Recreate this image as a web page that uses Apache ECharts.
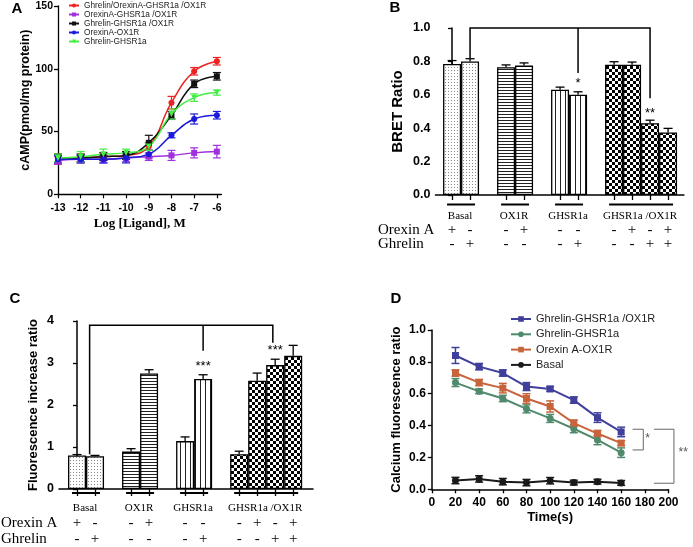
<!DOCTYPE html>
<html>
<head>
<meta charset="utf-8">
<script src="https://cdn.jsdelivr.net/npm/echarts@6/dist/echarts.min.js"></script>
<style>
html, body { margin: 0; padding: 0; background: #fff; }
#main { width: 693px; height: 547px; }
</style>
</head>
<body>
<div id="main"></div>
<script>
// A: cAMP dose response
const logDose = [-13, -12, -11, -10, -9, -8, -7, -6];
const campNames = ['Ghrelin/OrexinA-GHSR1a /OX1R', 'OrexinA-GHSR1a /OX1R', 'Ghrelin-GHSR1a /OX1R', 'OrexinA-OX1R', 'Ghrelin-GHSR1a'];
const campBoth = [28, 29, 30, 31, 38, 73, 98, 106];
const campOrexinDimer = [27, 28, 28, 29, 30, 31, 33, 34];
const campGhrelinDimer = [29, 29, 30, 31, 41, 63, 88, 94];
const campOrexinOX1R = [28, 28, 28, 29, 32, 47, 60, 63];
const campGhrelinGHSR = [29, 30, 32, 33, 38, 64, 77, 81];
const campBothErr = [4, 3, 3, 3, 3, 5, 3, 3];
const campOrexinDimerErr = [3, 3, 3, 3, 3, 4, 4, 5];
const campGhrelinDimerErr = [3, 3, 3, 3, 6, 3, 3, 3];
const campOrexinOX1RErr = [3, 3, 3, 4, 3, 2, 4, 3];
const campGhrelinGHSRErr = [3, 4, 4, 3, 3, 4, 3, 2];

// B / C: bar groups
const groups = ['Basal', 'OX1R', 'GHSR1a', 'GHSR1a /OX1R'];
const barGroup = [0, 0, 1, 1, 2, 2, 3, 3, 3, 3];
const orexinA = ['+', '-', '-', '+', '-', '-', '-', '+', '-', '+'];
const ghrelin = ['-', '+', '-', '-', '-', '+', '-', '-', '+', '+'];
const bretMean = [0.785, 0.80, 0.765, 0.775, 0.63, 0.60, 0.78, 0.78, 0.43, 0.375];
const bretErr = [0.02, 0.016, 0.014, 0.016, 0.016, 0.018, 0.018, 0.016, 0.018, 0.024];
const fluoMean = [0.80, 0.78, 0.89, 2.75, 1.14, 2.62, 0.83, 2.58, 2.95, 3.17];
const fluoErr = [0.02, 0.02, 0.07, 0.09, 0.10, 0.10, 0.07, 0.18, 0.14, 0.25];

// D: calcium time course
const timeS = [20, 40, 60, 80, 100, 120, 140, 160];
const caNames = ['Ghrelin-GHSR1a /OX1R ', 'Ghrelin-GHSR1a ', 'Orexin A-OX1R', 'Basal'];
const caGhrelinDimer = [0.84, 0.77, 0.73, 0.645, 0.63, 0.56, 0.45, 0.36];
const caGhrelinGHSR = [0.67, 0.615, 0.57, 0.505, 0.445, 0.38, 0.31, 0.23];
const caOrexinOX1R = [0.73, 0.67, 0.635, 0.57, 0.52, 0.415, 0.35, 0.29];
const caBasal = [0.055, 0.065, 0.048, 0.042, 0.054, 0.042, 0.048, 0.04];
const caGhrelinDimerErr = [0.05, 0.02, 0.02, 0.025, 0.015, 0.02, 0.03, 0.03];
const caGhrelinGHSRErr = [0.025, 0.015, 0.02, 0.025, 0.025, 0.025, 0.03, 0.03];
const caOrexinOX1RErr = [0.02, 0.02, 0.03, 0.03, 0.035, 0.02, 0.02, 0.015];
const caBasalErr = [0.02, 0.02, 0.02, 0.02, 0.02, 0.015, 0.015, 0.015];

const SANS = 'Liberation Sans';
const SERIF = 'Liberation Serif';

// bar position: index plus one empty slot between groups
const barPos = barGroup.map((g, i) => i + g);

function makePattern(kind) {
  const c = document.createElement('canvas');
  const ctx = c.getContext('2d');
  if (kind === 'dots') {
    c.width = 3; c.height = 3;
    ctx.fillStyle = '#fff'; ctx.fillRect(0, 0, 3, 3);
    ctx.fillStyle = '#888'; ctx.fillRect(1, 1, 1, 1);
  } else if (kind === 'h') {
    c.width = 2; c.height = 3;
    ctx.fillStyle = '#fff'; ctx.fillRect(0, 0, 2, 3);
    ctx.fillStyle = '#222'; ctx.fillRect(0, 0, 2, 1);
  } else if (kind === 'v') {
    c.width = 5; c.height = 2;
    ctx.fillStyle = '#fff'; ctx.fillRect(0, 0, 5, 2);
    ctx.fillStyle = '#222'; ctx.fillRect(0, 0, 1, 2);
  } else {
    c.width = 6; c.height = 6;
    ctx.fillStyle = '#fff'; ctx.fillRect(0, 0, 6, 6);
    ctx.fillStyle = '#000'; ctx.fillRect(0, 0, 3, 3); ctx.fillRect(3, 3, 3, 3);
  }
  return { image: c, repeat: 'repeat' };
}
const patterns = [makePattern('dots'), makePattern('h'), makePattern('v'), makePattern('checker')];

function errorBars(gi, xs, means, errs, color, cap, lw, upOnly) {
  return {
    type: 'custom', xAxisIndex: gi, yAxisIndex: gi, silent: true, z: 4,
    data: xs.map((x, i) => [x, means[i], errs[i]]),
    encode: { x: 0, y: 1 },
    renderItem: (params, api) => {
      const x = api.value(0), m = api.value(1), e = api.value(2);
      const top = api.coord([x, m + e]);
      const bot = api.coord([x, upOnly ? m : m - e]);
      const st = { stroke: color, lineWidth: lw };
      const ch = [
        { type: 'line', shape: { x1: top[0], y1: top[1], x2: bot[0], y2: bot[1] }, style: st },
        { type: 'line', shape: { x1: top[0] - cap / 2, y1: top[1], x2: top[0] + cap / 2, y2: top[1] }, style: st }
      ];
      if (!upOnly) ch.push({ type: 'line', shape: { x1: bot[0] - cap / 2, y1: bot[1], x2: bot[0] + cap / 2, y2: bot[1] }, style: st });
      return { type: 'group', children: ch };
    }
  };
}

function lineSeries(gi, name, xs, ys, color, symbol, size, lw, extra) {
  return Object.assign({
    type: 'line', name, xAxisIndex: gi, yAxisIndex: gi,
    data: xs.map((x, i) => [x, ys[i]]),
    symbol, symbolSize: size, showSymbol: true,
    lineStyle: { color, width: lw }, itemStyle: { color },
    z: 5
  }, extra || {});
}

function axisCommon(extra) {
  return Object.assign({
    type: 'value',
    axisLine: { show: true, lineStyle: { color: '#000', width: 1.5 } },
    axisTick: { show: true, length: 4, lineStyle: { color: '#000', width: 1.3 } },
    axisLabel: { color: '#000', fontFamily: SANS, fontWeight: 'bold', fontSize: 12 },
    splitLine: { show: false },
    nameLocation: 'middle',
    nameTextStyle: { color: '#000', fontFamily: SANS, fontWeight: 'bold', fontSize: 13 }
  }, extra);
}

const campSets = [
  [campBoth, campBothErr, '#ee2222', 'circle', 0],
  [campOrexinDimer, campOrexinDimerErr, '#a030dd', 'rect', 0],
  [campGhrelinDimer, campGhrelinDimerErr, '#111111', 'rect', 0],
  [campOrexinOX1R, campOrexinOX1RErr, '#1a1ad8', 'circle', 0],
  [campGhrelinGHSR, campGhrelinGHSRErr, '#44ee44', 'triangle', 180]
];
const caSets = [
  [caGhrelinDimer, caGhrelinDimerErr, '#40409c', 'rect'],
  [caGhrelinGHSR, caGhrelinGHSRErr, '#4f8a6c', 'circle'],
  [caOrexinOX1R, caOrexinOX1RErr, '#c8643c', 'rect'],
  [caBasal, caBasalErr, '#1a1a1a', 'circle']
];

const series = [];
campSets.forEach((s, k) => {
  series.push(lineSeries(0, campNames[k], logDose, s[0], s[2], s[3], 6, 1.5,
    { smooth: 0.45, symbolRotate: s[4] }));
  series.push(errorBars(0, logDose, s[0], s[1], s[2], 8, 1.2, false));
});
series.push({
  type: 'bar', xAxisIndex: 1, yAxisIndex: 1, barWidth: 18, z: 3,
  data: bretMean.map((v, i) => ({ value: [barPos[i], v], itemStyle: { color: patterns[barGroup[i]], borderColor: '#000', borderWidth: 1.3 } }))
});
series.push(errorBars(1, barPos, bretMean, bretErr, '#000', 9, 1.3, true));
series.push({
  type: 'bar', xAxisIndex: 2, yAxisIndex: 2, barWidth: 18, z: 3,
  data: fluoMean.map((v, i) => ({ value: [barPos[i], v], itemStyle: { color: patterns[barGroup[i]], borderColor: '#000', borderWidth: 1.3 } }))
});
series.push(errorBars(2, barPos, fluoMean, fluoErr, '#000', 9, 1.3, true));
caSets.forEach((s, k) => {
  series.push(lineSeries(3, caNames[k], timeS, s[0], s[2], s[3], 7, 2));
  series.push(errorBars(3, timeS, s[0], s[1], s[2], 8, 1.5, false));
});

const chart = echarts.init(document.getElementById('main'));
chart.setOption({
  animation: false,
  backgroundColor: '#fff',
  grid: [
    { left: 58, top: 6, width: 163.4, height: 188.3 },
    { left: 435.5, top: 28, width: 248.4, height: 167 },
    { left: 59, top: 321, width: 254, height: 168 },
    { left: 431.8, top: 330, width: 236.7, height: 159.3 }
  ],
  legend: [
    {
      data: campNames, orient: 'vertical', left: 68, top: 1, padding: 0,
      itemWidth: 10, itemHeight: 5, itemGap: 0,
      textStyle: { fontFamily: SANS, fontSize: 8.3, lineHeight: 9, color: '#222' }
    },
    {
      data: caNames, orient: 'vertical', left: 510, top: 312.5, padding: 0,
      itemWidth: 20, itemHeight: 7, itemGap: 2.3,
      textStyle: { fontFamily: SANS, fontSize: 11, lineHeight: 13, color: '#222' }
    }
  ],
  xAxis: [
    axisCommon({
      gridIndex: 0, min: -13, max: -5.8,
      axisLine: { lineStyle: { color: '#000', width: 1.3 } },
      axisTick: { length: 4, customValues: logDose, lineStyle: { color: '#000', width: 1.2 } },
      axisLabel: { customValues: logDose, color: '#000', fontFamily: SANS, fontWeight: 'bold', fontSize: 10.5, margin: 8 },
      name: 'Log [Ligand], M', nameGap: 23,
      nameTextStyle: { color: '#000', fontFamily: SERIF, fontWeight: 'bold', fontSize: 13 }
    }),
    axisCommon({
      gridIndex: 1, min: -0.92, max: 12.88,
      axisTick: { length: 5, customValues: barPos, lineStyle: { color: '#000', width: 1.3 } },
      axisLabel: { show: false }
    }),
    axisCommon({
      gridIndex: 2, min: -1, max: 13.1,
      axisTick: { length: 7, customValues: barPos, lineStyle: { color: '#000', width: 1.3 } },
      axisLabel: { show: false }
    }),
    axisCommon({
      gridIndex: 3, min: 0, max: 200, interval: 20,
      axisLabel: { color: '#000', fontFamily: SANS, fontWeight: 'bold', fontSize: 12, margin: 7 },
      name: 'Time(s)', nameGap: 22
    })
  ],
  yAxis: [
    axisCommon({
      gridIndex: 0, min: 0, max: 150, interval: 50,
      axisLine: { lineStyle: { color: '#000', width: 1.3 } },
      axisLabel: { color: '#000', fontFamily: SANS, fontWeight: 'bold', fontSize: 10.5, margin: 5 },
      name: 'cAMP(pmol/mg protein)', nameGap: 19,
      nameTextStyle: { color: '#000', fontFamily: SANS, fontWeight: 'bold', fontSize: 12.5 }
    }),
    axisCommon({
      gridIndex: 1, min: 0, max: 1, interval: 0.2,
      axisLabel: { color: '#000', fontFamily: SANS, fontWeight: 'bold', fontSize: 12.5, margin: 5, formatter: v => v.toFixed(1) },
      name: 'BRET Ratio', nameGap: 30,
      nameTextStyle: { color: '#000', fontFamily: SANS, fontWeight: 'bold', fontSize: 15 }
    }),
    axisCommon({
      gridIndex: 2, min: 0, max: 4, interval: 1,
      axisLabel: { color: '#000', fontFamily: SANS, fontWeight: 'bold', fontSize: 12.5, margin: 5 },
      name: 'Fluorescence increase ratio', nameGap: 19
    }),
    axisCommon({
      gridIndex: 3, min: 0, max: 1, interval: 0.2,
      axisLabel: { color: '#000', fontFamily: SANS, fontWeight: 'bold', fontSize: 12, margin: 6, formatter: v => v.toFixed(1) },
      name: 'Calcium fluorescence ratio', nameGap: 29
    })
  ],
  series
});

// annotations placed through the axes
const P = (gi, x, y) => chart.convertToPixel({ xAxisIndex: gi, yAxisIndex: gi }, [x, y]);
const gfx = [];
function txt(x, y, text, font, align, color) {
  gfx.push({
    type: 'text', x, y, silent: true, z: 20,
    style: {
      text, font, fill: color || '#000',
      align: align || 'center', verticalAlign: 'middle',
      textAlign: align || 'center', textVerticalAlign: 'middle'
    }
  });
}
function poly(points, color, lw) {
  gfx.push({ type: 'polyline', silent: true, z: 20, shape: { points }, style: { stroke: color, lineWidth: lw, fill: null } });
}

function barPanelLabels(gi, ulOff, lblOff, rowA, rowB, rowX) {
  const axisY = P(gi, 0, 0)[1];
  groups.forEach((name, k) => {
    const idx = barPos.filter((p, i) => barGroup[i] === k);
    const x0 = P(gi, idx[0], 0)[0] - 5;
    const x1 = P(gi, idx[idx.length - 1], 0)[0] + 5;
    poly([[x0, axisY + ulOff], [x1, axisY + ulOff]], '#000', 2);
    txt((x0 + x1) / 2 - 1, axisY + lblOff, name, '11px ' + SERIF);
  });
  barPos.forEach((p, i) => {
    const x = P(gi, p, 0)[0];
    txt(x, axisY + rowA, orexinA[i], '15px ' + SERIF);
    txt(x, axisY + rowB, ghrelin[i], '15px ' + SERIF);
  });
  txt(rowX, axisY + rowA, 'Orexin A', '15px ' + SERIF, 'left');
  txt(rowX, axisY + rowB, 'Ghrelin', '15px ' + SERIF, 'left');
}
barPanelLabels(1, 9.5, 21, 35, 49.5, 378);
barPanelLabels(2, 4, 19.5, 34, 50.5, 1);

// B brackets
poly([P(1, 1, 0.82), P(1, 1, 1.0), P(1, 11, 1.0), P(1, 11, 0.58)], '#000', 1.5);
poly([P(1, 7, 1.0), P(1, 7, 0.73)], '#000', 1.5);
(function () { const a = P(1, 7, 0.67); txt(a[0], a[1], '*', '13px ' + SANS); })();
(function () { const a = P(1, 11, 0.49); txt(a[0], a[1], '**', '13px ' + SANS); })();
// C brackets
poly([P(2, 0.7, 0.83), P(2, 0.7, 3.9), P(2, 10.87, 3.9), P(2, 10.87, 3.48)], '#000', 1.5);
poly([P(2, 7, 3.9), P(2, 7, 3.29)], '#000', 1.5);
(function () { const a = P(2, 7, 2.93); txt(a[0], a[1], '***', '13px ' + SANS); })();
(function () { const a = P(2, 11, 3.31); txt(a[0], a[1], '***', '13px ' + SANS); })();
// D brackets
poly([P(3, 169.7, 0.377), P(3, 178.7, 0.377), P(3, 178.7, 0.247), P(3, 169.7, 0.247)], '#666', 1);
poly([P(3, 187.7, 0.377), P(3, 204.6, 0.377), P(3, 204.6, 0.038), P(3, 187.7, 0.038)], '#666', 1);
(function () { const a = P(3, 182.4, 0.32); txt(a[0], a[1], '*', '12px ' + SANS, 'center', '#555'); })();
(function () { const a = P(3, 212.5, 0.23); txt(a[0], a[1], '**', '12px ' + SANS, 'center', '#555'); })();

// panel letters
txt(17, 9, 'A', 'bold 15px ' + SANS);
txt(395, 8, 'B', 'bold 15px ' + SANS);
txt(15, 299, 'C', 'bold 15px ' + SANS);
txt(396, 299, 'D', 'bold 15px ' + SANS);

chart.setOption({ graphic: gfx });
</script>
</body>
</html>
